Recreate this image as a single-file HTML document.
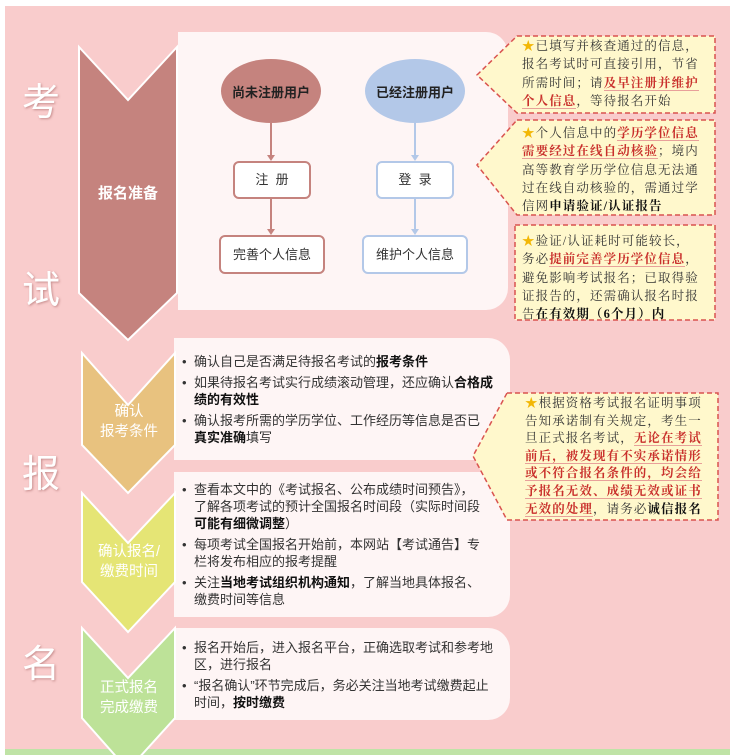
<!DOCTYPE html>
<html><head><meta charset="utf-8"><style>
*{margin:0;padding:0;box-sizing:border-box}
body{width:735px;height:755px;background:#fff;position:relative;overflow:hidden;font-family:"Liberation Sans","Noto Sans CJK SC",sans-serif}
.abs{position:absolute}
.panel{position:absolute;background:#fef5f5;border-radius:0 22px 22px 0}
.big{position:absolute;left:22px;color:#fff;font-size:38px;font-family:"Noto Sans CJK SC",sans-serif;text-shadow:1px 1px 2px rgba(150,80,80,.5);line-height:1}
.chev{position:absolute;color:#fff;font-size:14.5px;text-align:center;line-height:20px;width:98px}
ul{list-style:none;position:absolute;font-size:13px;color:#333;line-height:17px;white-space:nowrap}
li{position:relative;padding-left:12px;margin-bottom:4px}
li:before{content:"•";position:absolute;left:0;top:0}
b{color:#111}
.co{position:absolute;font-family:"Liberation Serif","Noto Serif CJK SC",serif;font-size:12.5px;line-height:18.3px;color:#333;letter-spacing:1.1px;white-space:nowrap}
.r{color:#c9302c;font-weight:bold;border-bottom:1px solid #e8a09a}
.st{color:#f2b705}
.node{position:absolute;background:#fff;border:2px solid;border-radius:6px;font-size:13px;color:#333;text-align:center}
</style></head><body>
<div class="abs" style="left:5px;top:6px;width:725px;height:745px;background:#f9cccc"></div>
<div class="abs" style="left:5px;top:749px;width:725px;height:6px;background:#bfe3a6"></div>

<div class="panel" style="left:178px;top:32px;width:330px;height:278px"></div>
<div class="panel" style="left:174px;top:338px;width:336px;height:122px"></div>
<div class="panel" style="left:174px;top:472px;width:336px;height:145px"></div>
<div class="panel" style="left:174px;top:628px;width:336px;height:92px"></div>

<svg class="abs" style="left:0;top:0" width="735" height="755">
<g stroke="#fff" stroke-width="2">
<polygon points="79,47 128,100 177,47 177,293 128,340 79,293" fill="#c5837e"/>
<polygon points="82,353 128,405 175,353 175,445 128,493 82,445" fill="#e8c27f"/>
<polygon points="82,493 128,543 175,493 175,582 128,632 82,582" fill="#e5e575"/>
<polygon points="82,628 128,678 175,628 175,718 128,770 82,718" fill="#bde298"/>
</g>
<g fill="#fff8cc" stroke="#d9534f" stroke-width="1.5" stroke-dasharray="5,3">
<polygon points="517,36 715,36 715,113 517,113 477,75"/>
<polygon points="517,120 715,120 715,215 517,215 477,165"/>
<rect x="515" y="225" width="200" height="95"/>
<polygon points="507,393 718,393 718,520 507,520 473,456"/>
</g>
<ellipse cx="271" cy="91" rx="50" ry="32" fill="#c5837e"/>
<ellipse cx="415" cy="91" rx="50" ry="32" fill="#b3c8e8"/>
<g stroke="#c5837e" stroke-width="2" fill="#c5837e">
<line x1="271" y1="123" x2="271" y2="156"/><polygon points="267,155 275,155 271,161" stroke="none"/>
<line x1="271" y1="199" x2="271" y2="230"/><polygon points="267,229 275,229 271,235" stroke="none"/>
</g>
<g stroke="#b3c8e8" stroke-width="2" fill="#b3c8e8">
<line x1="415" y1="123" x2="415" y2="156"/><polygon points="411,155 419,155 415,161" stroke="none"/>
<line x1="415" y1="199" x2="415" y2="230"/><polygon points="411,229 419,229 415,235" stroke="none"/>
</g>
</svg>

<div class="big" style="top:80px">考</div>
<div class="big" style="top:268px">试</div>
<div class="big" style="top:452px">报</div>
<div class="big" style="top:642px">名</div>

<div class="chev" style="left:79px;top:184px;font-weight:bold;font-size:15px">报名准备</div>
<div class="chev" style="left:80px;top:402px">确认<br>报考条件</div>
<div class="chev" style="left:80px;top:542px">确认报名/<br>缴费时间</div>
<div class="chev" style="left:80px;top:678px">正式报名<br>完成缴费</div>

<div class="abs" style="left:221px;top:82px;width:100px;text-align:center;font-size:13px;font-weight:bold;color:#222">尚未注册用户</div>
<div class="abs" style="left:365px;top:82px;width:100px;text-align:center;font-size:13px;font-weight:bold;color:#222">已经注册用户</div>
<div class="node" style="left:233px;top:161px;width:78px;height:38px;line-height:34px;border-color:#c5837e">注&nbsp;&nbsp;册</div>
<div class="node" style="left:219px;top:235px;width:106px;height:39px;line-height:35px;border-color:#c5837e">完善个人信息</div>
<div class="node" style="left:376px;top:161px;width:78px;height:38px;line-height:34px;border-color:#b3c8e8">登&nbsp;&nbsp;录</div>
<div class="node" style="left:362px;top:235px;width:106px;height:39px;line-height:35px;border-color:#b3c8e8">维护个人信息</div>

<ul style="left:182px;top:353px">
<li>确认自己是否满足待报名考试的<b>报考条件</b></li>
<li>如果待报名考试实行成绩滚动管理，还应确认<b>合格成<br>绩的有效性</b></li>
<li>确认报考所需的学历学位、工作经历等信息是否已<br><b>真实准确</b>填写</li>
</ul>
<ul style="left:182px;top:481px">
<li>查看本文中的《考试报名、公布成绩时间预告》，<br>了解各项考试的预计全国报名时间段（实际时间段<br><b>可能有细微调整</b>）</li>
<li>每项考试全国报名开始前，本网站【考试通告】专<br>栏将发布相应的报考提醒</li>
<li>关注<b>当地考试组织机构通知</b>，了解当地具体报名、<br>缴费时间等信息</li>
</ul>
<ul style="left:182px;top:639px">
<li>报名开始后，进入报名平台，正确选取考试和参考地<br>区，进行报名</li>
<li>“报名确认”环节完成后，务必关注当地考试缴费起止<br>时间，<b>按时缴费</b></li>
</ul>

<div class="co" style="left:522px;top:37px"><span class="st">★</span>已填写并核查通过的信息，<br>报名考试时可直接引用，节省<br>所需时间；请<span class="r">及早注册并维护</span><br><span class="r">个人信息</span>，等待报名开始</div>
<div class="co" style="left:522px;top:124px"><span class="st">★</span>个人信息中的<span class="r">学历学位信息</span><br><span class="r">需要经过在线自动核验</span>；境内<br>高等教育学历学位信息无法通<br>过在线自动核验的，需通过学<br>信网<b>申请验证/认证报告</b></div>
<div class="co" style="left:522px;top:232px"><span class="st">★</span>验证/认证耗时可能较长，<br>务必<span class="r">提前完善学历学位信息</span>，<br>避免影响考试报名；已取得验<br>证报告的，还需确认报名时报<br>告<b>在有效期（6个月）内</b></div>
<div class="co" style="left:525px;top:395px;line-height:17.6px"><span class="st">★</span>根据资格考试报名证明事项<br>告知承诺制有关规定，考生一<br>旦正式报名考试，<span class="r">无论在考试</span><br><span class="r">前后，被发现有不实承诺情形</span><br><span class="r">或不符合报名条件的，均会给</span><br><span class="r">予报名无效、成绩无效或证书</span><br><span class="r">无效的处理</span>，请务必<b>诚信报名</b></div>
</body></html>
